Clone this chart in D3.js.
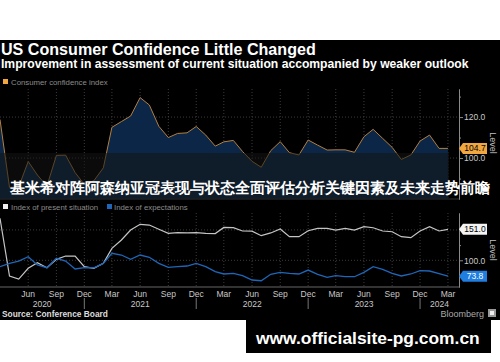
<!DOCTYPE html>
<html>
<head>
<meta charset="UTF-8">
<title>US Consumer Confidence Little Changed</title>
<style>
  body { margin: 0; background: #fff; }
  svg { display: block; }
  text { font-family: "Liberation Sans", Arial, sans-serif; }
</style>
</head>
<body>
<div id="chart"></div>
<script src="https://d3js.org/d3.v7.min.js"></script>
<script>
// monthly readings, Mar 2020 .. Mar 2024
const startMonth = new Date(2020, 2, 1);
const confidence = [
  118.8, 85.7, 85.9, 98.3, 91.7, 86.3, 101.3, 101.4, 92.9, 87.1,
  88.9, 95.2, 115.0, 117.8, 120.5, 129.5, 125.9, 115.5, 110.0, 112.0, 112.3, 115.4,
  111.2, 105.8, 107.9, 108.6, 103.2, 98.4, 95.5, 103.6, 108.0, 102.6, 101.5, 108.8,
  106.3, 103.9, 104.0, 104.0, 102.8, 110.4, 114.0, 109.6, 105.2, 99.3, 101.5, 108.3,
  111.2, 104.7, 104.7
];
const present = [
  169.0, 74.2, 69.2, 86.8, 96.0, 87.8, 101.6, 107.0, 107.0, 89.5,
  86.8, 95.0, 119.7, 133.4, 149.8, 159.2, 158.0, 151.0, 144.4, 145.5, 145.0, 145.5,
  144.4, 144.0, 154.0, 153.6, 148.2, 148.0, 140.5, 145.0, 151.5, 138.8, 138.8, 148.7,
  152.6, 152.6, 149.8, 152.6, 149.8, 155.3, 153.6, 148.2, 147.0, 138.8, 137.2, 148.2,
  155.3, 148.2, 151.0
];
const expectations = [
  89.5, 95.0, 98.8, 106.0, 92.3, 87.8, 103.3, 98.8, 85.7, 87.8,
  87.8, 95.0, 111.5, 108.7, 101.6, 108.7, 105.0, 95.0, 88.5, 89.5, 90.6, 95.0,
  89.5, 81.3, 77.5, 78.6, 74.7, 67.6, 66.4, 77.0, 80.2, 78.6, 77.5, 84.0,
  77.0, 72.0, 74.7, 73.0, 73.0, 80.2, 89.5, 85.2, 78.6, 74.2, 77.5, 82.9,
  82.4, 78.0, 73.8
];
const quarterLabels = ["Mar", "Jun", "Sep", "Dec"];
const years = [2020, 2021, 2022, 2023, 2024];
const topTicks = [100, 120], topMinor = [90, 110, 130];
const botTicks = [100, 150], botMinor = [75, 125];

const months = d3.timeMonth.range(startMonth, d3.timeMonth.offset(startMonth, confidence.length));

const width = 500, height = 362, plotW = 459;
const topBox = { y0: 89, y1: 199 }, botBox = { y0: 213, y1: 287 };

const svg = d3.select("#chart").append("svg")
  .attr("width", width).attr("height", height);

// black panel
svg.append("rect").attr("x", 0).attr("y", 40).attr("width", width).attr("height", 280).attr("fill", "#000");

// scales
const x = d3.scaleTime().domain([startMonth, new Date(2024, 3, 6)]).range([0, plotW]);
const yTop = d3.scaleLinear().domain([80, 133.7]).range([topBox.y1, topBox.y0]);
const yBot = d3.scaleLinear().domain([56.1, 177.8]).range([botBox.y1, botBox.y0]);

function fit(t, w) {
  const len = t.node().getComputedTextLength();
  t.attr("font-size", parseFloat(t.attr("font-size")) * w / len);
}

// titles
fit(svg.append("text").attr("x", 1).attr("y", 55)
  .attr("font-family", "DejaVu Sans").attr("font-weight", "bold").attr("font-size", 14)
  .attr("fill", "#fff").text("US Consumer Confidence Little Changed"), 315);
fit(svg.append("text").attr("x", 1).attr("y", 68)
  .attr("font-family", "DejaVu Sans").attr("font-weight", "bold").attr("font-size", 10)
  .attr("fill", "#fff").text("Improvement in assessment of current situation accompanied by weaker outlook"), 468);

// clip
const defs = svg.append("defs");
defs.append("clipPath").attr("id", "clipTop").append("rect")
  .attr("x", 0).attr("y", topBox.y0).attr("width", plotW).attr("height", topBox.y1 - topBox.y0);
defs.append("clipPath").attr("id", "clipBot").append("rect")
  .attr("x", 0).attr("y", botBox.y0).attr("width", plotW).attr("height", botBox.y1 - botBox.y0);

const quarterTicks = months.filter(d => d.getMonth() % 3 === 2 && x(d) > 5);

function grid(box, yScale, ticks) {
  const g = svg.append("g").attr("stroke", "#4a4a4a").attr("stroke-dasharray", "1,2").attr("stroke-width", 0.8);
  g.selectAll(".v").data(quarterTicks).enter().append("line")
    .attr("x1", d => x(d)).attr("x2", d => x(d)).attr("y1", box.y0).attr("y2", box.y1);
  g.selectAll(".h").data(ticks).enter().append("line")
    .attr("x1", 0).attr("x2", plotW).attr("y1", d => yScale(d)).attr("y2", d => yScale(d));
}
grid(topBox, yTop, topTicks);
grid(botBox, yBot, botTicks);

// top chart: area + line
svg.append("path").datum(confidence).attr("clip-path", "url(#clipTop)")
  .attr("fill", "#0b2646")
  .attr("d", d3.area().x((d, i) => x(months[i])).y0(topBox.y1).y1(d => yTop(d)));
svg.append("path").datum(confidence).attr("clip-path", "url(#clipTop)")
  .attr("fill", "none").attr("stroke", "#b3803e").attr("stroke-width", 1)
  .attr("d", d3.line().x((d, i) => x(months[i])).y(d => yTop(d)));
svg.append("line").attr("x1", 0).attr("x2", plotW).attr("y1", topBox.y1).attr("y2", topBox.y1)
  .attr("stroke", "#333");

// bottom chart lines
const botLine = d3.line().x((d, i) => x(months[i])).y(d => yBot(d));
svg.append("path").datum(present).attr("clip-path", "url(#clipBot)")
  .attr("fill", "none").attr("stroke", "#c4c4c4").attr("stroke-width", 1.2).attr("d", botLine);
svg.append("path").datum(expectations).attr("clip-path", "url(#clipBot)")
  .attr("fill", "none").attr("stroke", "#1f66b8").attr("stroke-width", 1.3).attr("d", botLine);

// right axes
function rightAxis(yScale, ticks, minor, hideLabels) {
  const g = svg.append("g").attr("transform", `translate(${plotW},0)`);
  g.call(d3.axisRight(yScale).tickValues(ticks).tickSize(4).tickSizeOuter(0)
    .tickFormat(d => hideLabels.includes(d) ? "" : d3.format(".1f")(d)));
  g.append("g").call(d3.axisRight(yScale).tickValues(minor).tickSize(2).tickSizeOuter(0).tickFormat(""));
  g.selectAll("path.domain").attr("stroke", "#8a8a8a");
  g.selectAll("line").attr("stroke", "#8a8a8a");
  g.selectAll("text").attr("fill", "#c8c8c8").attr("font-size", 8.5)
    .attr("font-family", "Liberation Sans, Arial, sans-serif").attr("x", 5);
}
rightAxis(yTop, topTicks, topMinor, []);
rightAxis(yBot, botTicks, botMinor, [150]);

// bottom x axis
svg.append("line").attr("x1", 0).attr("x2", plotW).attr("y1", botBox.y1).attr("y2", botBox.y1)
  .attr("stroke", "#666");
svg.append("g").selectAll("text").data(quarterTicks).enter().append("text")
  .attr("x", d => x(d)).attr("y", 297).attr("text-anchor", "middle")
  .attr("font-size", 8.5).attr("fill", "#c8c8c8")
  .text(d => quarterLabels[(d.getMonth() - 2) / 3]);

const yearSpan = years.map(yr => {
  const a = Math.max(0, x(new Date(yr - 1, 11, 1)));
  const b = Math.min(plotW, x(new Date(yr, 11, 1)));
  return { yr, a, b };
});
svg.append("g").selectAll("text").data(yearSpan).enter().append("text")
  .attr("x", d => (d.a + d.b) / 2).attr("y", 307).attr("text-anchor", "middle")
  .attr("font-size", 8.5).attr("fill", "#c8c8c8").text(d => d.yr);
svg.append("g").selectAll("line").data(yearSpan.filter(d => d.b < plotW)).enter().append("line")
  .attr("x1", d => d.b).attr("x2", d => d.b).attr("y1", 298).attr("y2", 309)
  .attr("stroke", "#777");

// value tags
function tag(y, label, fill, color) {
  svg.append("path")
    .attr("d", `M${plotW},${y} L${plotW + 4},${y - 5.5} L487,${y - 5.5} L487,${y + 5.5} L${plotW + 4},${y + 5.5} Z`)
    .attr("fill", fill);
  svg.append("text").attr("x", 475).attr("y", y + 3).attr("text-anchor", "middle")
    .attr("font-size", 8.5).attr("fill", color).text(label);
}
tag(yTop(confidence[confidence.length - 1]), d3.format(".1f")(confidence[confidence.length - 1]), "#f2a640", "#000");
tag(yBot(present[present.length - 1]), d3.format(".1f")(present[present.length - 1]), "#f4f4f4", "#000");
tag(yBot(expectations[expectations.length - 1]), d3.format(".1f")(expectations[expectations.length - 1]), "#1f7ee0", "#fff");

// "Level" labels
[[490, 143], [490, 250]].forEach(([lx, ly]) => {
  svg.append("text").attr("transform", `translate(${lx},${ly}) rotate(90)`)
    .attr("text-anchor", "middle").attr("font-size", 9).attr("fill", "#c0c0c0").text("Level");
});

// legends
svg.append("rect").attr("x", 3).attr("y", 79).attr("width", 5).attr("height", 5).attr("fill", "#f2a640");
svg.append("text").attr("x", 11).attr("y", 84.5).attr("font-size", 7.8).attr("fill", "#8c8c8c")
  .text("Consumer confidence index");
svg.append("rect").attr("x", 3).attr("y", 204).attr("width", 5).attr("height", 5).attr("fill", "#eee");
svg.append("text").attr("x", 11).attr("y", 209.5).attr("font-size", 7.8).attr("fill", "#8c8c8c")
  .text("Index of present situation");
svg.append("rect").attr("x", 107).attr("y", 204).attr("width", 5).attr("height", 5).attr("fill", "#1f66b8");
svg.append("text").attr("x", 114).attr("y", 209.5).attr("font-size", 7.8).attr("fill", "#8c8c8c")
  .text("Index of expectations");

// banner overlay
svg.append("rect").attr("x", 0).attr("y", 153).attr("width", 449).attr("height", 46)
  .attr("fill", "rgba(20,20,20,0.55)");
fit(svg.append("text").attr("x", 10).attr("y", 193)
  .attr("font-family", "Noto Sans CJK SC").attr("font-weight", "bold").attr("font-size", 15)
  .attr("fill", "#fff").text("基米希对阵阿森纳亚冠表现与状态全面评估分析关键因素及未来走势前瞻"), 480);

// source + brand
fit(svg.append("text").attr("x", 2).attr("y", 317).attr("font-family", "DejaVu Sans")
  .attr("font-weight", "bold").attr("font-size", 8).attr("fill", "#ddd")
  .text("Source: Conference Board"), 106);
svg.append("text").attr("x", 484).attr("y", 317).attr("text-anchor", "end")
  .attr("font-size", 9).attr("fill", "#aaa").text("Bloomberg");
svg.append("rect").attr("x", 488).attr("y", 309).attr("width", 8).attr("height", 8).attr("fill", "#999");
svg.append("rect").attr("x", 490).attr("y", 311).attr("width", 4).attr("height", 4).attr("fill", "#eee");

// url box
svg.append("rect").attr("x", 246).attr("y", 320).attr("width", 245).attr("height", 33).attr("fill", "#000");
fit(svg.append("text").attr("x", 256).attr("y", 344).attr("font-family", "DejaVu Sans")
  .attr("font-weight", "bold").attr("font-size", 17).attr("fill", "#fff")
  .text("www.officialsite-pg.com.cn"), 224);
</script>
</body>
</html>
